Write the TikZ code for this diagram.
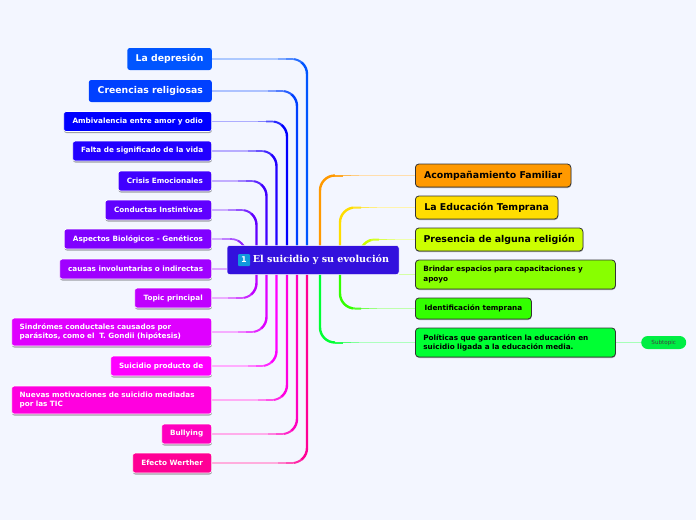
\documentclass[tikz,border=0pt]{standalone}
\usepackage{fontspec}
\setmainfont{DejaVu Sans}
\newfontfamily\titlefont{DejaVu Serif}
\usetikzlibrary{backgrounds,shadows}
\definecolor{page}{HTML}{F3F6FF}
\definecolor{cdep}{HTML}{0055FF}
\definecolor{ccre}{HTML}{0040FF}
\definecolor{camb}{HTML}{0000FF}
\definecolor{cfal}{HTML}{2200FF}
\definecolor{ccri}{HTML}{4000FF}
\definecolor{ccon}{HTML}{6000FF}
\definecolor{casp}{HTML}{8000FF}
\definecolor{ccau}{HTML}{A000FF}
\definecolor{ctop}{HTML}{BF00FF}
\definecolor{csin}{HTML}{DF00FF}
\definecolor{csui}{HTML}{FF00FF}
\definecolor{cnue}{HTML}{FF00DF}
\definecolor{cbul}{HTML}{FF00BF}
\definecolor{cefe}{HTML}{FF0095}
\definecolor{cmain}{HTML}{3311DD}
\definecolor{cacp}{HTML}{FF9900}
\definecolor{cedu}{HTML}{FFDD00}
\definecolor{cpre}{HTML}{CCFF00}
\definecolor{cbri}{HTML}{88FF00}
\definecolor{cide}{HTML}{33FF00}
\definecolor{cpol}{HTML}{00FF33}
\definecolor{csub}{HTML}{00EE44}
\definecolor{ckey}{HTML}{1199DD}
\begin{document}
\begin{tikzpicture}[
	x=1pt, y=-1pt,
	topbox/.style={ rounded corners=2.5pt, inner sep=0pt, text=white, font=\fontsize{9.3}{11}\selectfont\bfseries, minimum height=22pt },
	leafbox/.style={ rounded corners=2.5pt, draw=white, line width=0.7pt, inner sep=0pt, text=white, font=\fontsize{7.25}{9.2}\selectfont\bfseries, minimum height=20pt,
		drop shadow={shadow xshift=0.3pt, shadow yshift=-1.5pt, opacity=0.35, fill=black} },
	rightbox/.style={ rounded corners=3.5pt, draw=black!80, line width=0.8pt, inner sep=0pt, text=black, font=\fontsize{9.4}{11}\selectfont\bfseries, minimum height=23pt,
		drop shadow={shadow xshift=0.4pt, shadow yshift=-1pt, opacity=0.35, fill=black} },
	smallright/.style={ font=\fontsize{7.25}{9.2}\selectfont\bfseries },
	wire/.style 2 args={ draw=#1, line width=2.4pt, rounded corners=15pt, dash pattern=on 0pt off #2pt+24pt on 2000pt off 0pt,
		preaction={draw=#1!32!white, line width=1.3pt, dash pattern=on #2pt off 2000pt},
		preaction={draw=#1!50!white, line width=1.5pt, dash pattern=on 0pt off #2pt on 8pt off 2000pt},
		preaction={draw=#1!68!white, line width=1.7pt, dash pattern=on 0pt off #2pt+8pt on 8pt off 2000pt},
		preaction={draw=#1!85!white, line width=2pt, dash pattern=on 0pt off #2pt+16pt on 8pt off 2000pt} }
]

\useasboundingbox (0,0) rectangle (696,520);

\node at (313,260) (main) [rounded corners=2.5pt, fill=cmain, draw=white, line width=0.5pt, text=white, inner sep=0pt, minimum width=172pt, minimum height=29pt] {};
\node at (321,260) (maintext) [text=white, inner sep=0pt, font=\titlefont\fontsize{9.6}{11}\selectfont\bfseries] {El suicidio y su evolución};
\node at (244,260) (keycap) [rounded corners=1pt, fill=ckey, text=white, inner sep=0pt, minimum size=12pt, font=\fontsize{8}{9}\selectfont\bfseries] {1};

\node at (212,59) (dep) [anchor=east, topbox, fill=cdep, minimum width=84.5pt] {La depresión};
\node at (212,91) (cre) [anchor=east, topbox, fill=ccre, minimum width=123pt] {Creencias religiosas};
\node at (212,121.5) (amb) [anchor=east, leafbox, fill=camb, minimum width=148pt] {Ambivalencia entre amor y odio};
\node at (212,151) (fal) [anchor=east, leafbox, fill=cfal, minimum width=139pt] {Falta de significado de la vida};
\node at (212,181) (cri) [anchor=east, leafbox, fill=ccri, minimum width=93.5pt] {Crisis Emocionales};
\node at (212,210) (con) [anchor=east, leafbox, fill=ccon, minimum width=106.5pt] {Conductas Instintivas};
\node at (212,239) (asp) [anchor=east, leafbox, fill=casp, minimum width=147.5pt] {Aspectos Biológicos - Genéticos};
\node at (212,269) (cau) [anchor=east, leafbox, fill=ccau, minimum width=152pt] {causas involuntarias o indirectas};
\node at (212,298) (top) [anchor=east, leafbox, fill=ctop, minimum width=77pt] {Topic principal};
\node at (212,332) (sin) [anchor=east, leafbox, fill=csin, minimum width=200pt, minimum height=28pt, align=left, text width=184pt] {Sindrómes conductales causados por\\parásitos, como el \ T. Gondii (hipótesis)};
\node at (212,366) (sui) [anchor=east, leafbox, fill=csui, minimum width=101pt] {Suicidio producto de};
\node at (212,400) (nue) [anchor=east, leafbox, fill=cnue, minimum width=200pt, minimum height=28pt, align=left, text width=184pt] {Nuevas motivaciones de suicidio mediadas\\por las TIC};
\node at (212,434) (bul) [anchor=east, leafbox, fill=cbul, minimum width=50pt] {Bullying};
\node at (212,463) (efe) [anchor=east, leafbox, fill=cefe, minimum width=79pt] {Efecto Werther};

\node at (415,175.5) (acp) [anchor=west, rightbox, fill=cacp, minimum width=155.5pt] {Acompañamiento Familiar};
\node at (415,207.5) (edu) [anchor=west, rightbox, fill=cedu, minimum width=142.5pt] {La Educación Temprana};
\node at (415,239.5) (pre) [anchor=west, rightbox, fill=cpre, minimum width=167.5pt] {Presencia de alguna religión};
\node at (415,274.5) (bri) [anchor=west, rightbox, smallright, fill=cbri, minimum width=200pt, minimum height=29pt, align=left, text width=184pt] {Brindar espacios para capacitaciones y\\apoyo};
\node at (415,308.5) (ide) [anchor=west, rightbox, smallright, fill=cide, minimum width=116pt, minimum height=21pt] {Identificación temprana};
\node at (415,342.5) (pol) [anchor=west, rightbox, smallright, fill=cpol, minimum width=200pt, minimum height=29pt, align=left, text width=184pt] {Políticas que garanticen la educación en\\suicidio ligada a la educación media.};
\node at (641,342.5) (sub) [anchor=west, rounded corners=6.5pt, fill=csub, inner sep=0pt, minimum width=45pt, minimum height=13pt, text=black!75, font=\fontsize{5.6}{7}\selectfont] {Subtopic};

\coordinate (bus1) at (307,260);
\coordinate (bus2) at (297,260);
\coordinate (bus3) at (287,260);
\coordinate (bus4) at (276.5,260);
\coordinate (bus5) at (266.5,260);
\coordinate (bus6) at (256.5,260);
\coordinate (bus7) at (246,260);
\coordinate (busa) at (320,260);
\coordinate (busb) at (340,260);
\coordinate (busc) at (360,260);

\begin{scope}[on background layer]
\fill [page] (0,0) rectangle (696,520);
\draw [wire={cdep}{66}] (dep.east) -| (bus1);
\draw [wire={ccre}{56}] (cre.east) -| (bus2);
\draw [wire={camb}{46}] (amb.east) -| (bus3);
\draw [wire={cfal}{36}] (fal.east) -| (bus4);
\draw [wire={ccri}{26}] (cri.east) -| (bus5);
\draw [wire={ccon}{16}] (con.east) -| (bus6);
\draw [wire={casp}{10}] (asp.east) -| (bus7);
\draw [draw=ccau!35!white, line width=1.3pt] (cau.east) -- (cau.east -| main.west);
\draw [wire={ctop}{16}] (top.east) -| (bus6);
\draw [wire={csin}{26}] (sin.east) -| (bus5);
\draw [wire={csui}{36}] (sui.east) -| (bus4);
\draw [wire={cnue}{46}] (nue.east) -| (bus3);
\draw [wire={cbul}{56}] (bul.east) -| (bus2);
\draw [wire={cefe}{66}] (efe.east) -| (bus1);

\draw [wire={cacp}{56}] (acp.west) -| (busa);
\draw [wire={cedu}{38}] (edu.west) -| (busb);
\draw [wire={cpre}{20}] (pre.west) -| (busc);
\draw [draw=cbri!35!white, line width=1.3pt] (bri.west) -- (bri.west -| main.east);
\draw [wire={cide}{38}] (ide.west) -| (busb);
\draw [wire={cpol}{56}] (pol.west) -| (busa);
\draw [draw=cpol!35!white, line width=1.3pt] (pol.east |- sub.west) -- (sub.west);
\end{scope}

\end{tikzpicture}
\end{document}
